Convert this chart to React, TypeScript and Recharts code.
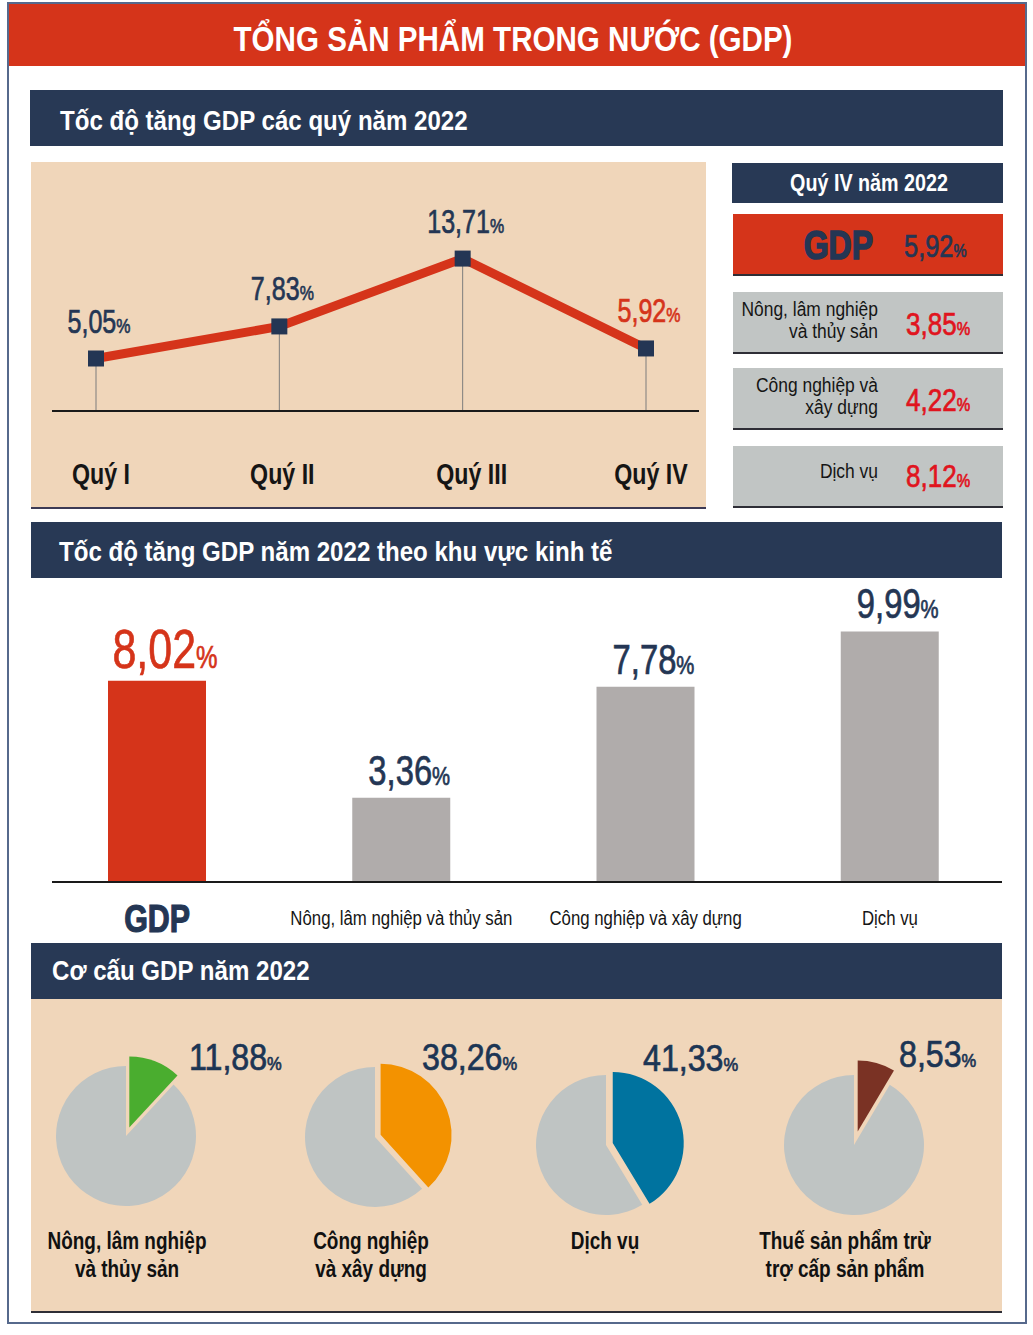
import React from 'react'
import {
  LineChart,
  Line,
  BarChart,
  Bar,
  Cell,
  XAxis,
  YAxis,
  LabelList,
  ReferenceLine,
  PieChart,
  Pie,
} from 'recharts'

// no Arial Narrow here: squeeze Liberation Sans horizontally instead
const FONT = "'Liberation Sans', Arial, sans-serif"
const SX = 0.82
const RED = '#d5341a'
const HOT = '#e0141e'
const NAVY = '#283955'
const INK = '#243654'
const BEIGE = '#f0d6ba'
const BAR_GREY = '#b0acab'
const BOX_GREY = '#c1c5c4'
const PIE_GREY = '#bfc4c3'

// quarterly GDP growth, 2022
const quarters = ['Quý I', 'Quý II', 'Quý III', 'Quý IV']
const quarterGrowth = [5.05, 7.83, 13.71, 5.92]

// Q4 2022 by sector
const q4Gdp = 5.92
const q4Sectors = [['Nông, lâm nghiệp', 'và thủy sản'], ['Công nghiệp và', 'xây dựng'], ['Dịch vụ']]
const q4Growth = [3.85, 4.22, 8.12]

// 2022 growth by sector
const sectors = ['GDP', 'Nông, lâm nghiệp và thủy sản', 'Công nghiệp và xây dựng', 'Dịch vụ']
const sectorGrowth = [8.02, 3.36, 7.78, 9.99]

// GDP structure 2022
const shareNames = [
  ['Nông, lâm nghiệp', 'và thủy sản'],
  ['Công nghiệp', 'và xây dựng'],
  ['Dịch vụ'],
  ['Thuế sản phẩm trừ', 'trợ cấp sản phẩm'],
]
const shareValues = [11.88, 38.26, 41.33, 8.53]
const shareColors = ['#4aad2f', '#f39200', '#00739f', '#7a3224']

const PIE_CENTERS = [[126, 1136], [375, 1137], [606, 1145], [854, 1145]]
const PIE_EXPLODE = [9, 6, 7, 14]
const PIE_LABELS = [[189, 1070], [422, 1070], [643, 1071], [899, 1067]]
const CAPTION_X = [127, 371, 605, 845]

const fmt = (v: number) => v.toFixed(2).replace('.', ',')

function NT({ x, y, anchor = 'start', size, weight = 400, fill, sx = SX, heavy = 0, children }: any) {
  return (
    <text
      transform={`translate(${x},${y}) scale(${sx},1)`}
      textAnchor={anchor}
      fontFamily={FONT}
      fontSize={size}
      fontWeight={weight}
      fill={fill}
      stroke={heavy ? fill : undefined}
      strokeWidth={heavy || undefined}
    >
      {children}
    </text>
  )
}

function Num({ x, y, v, size, pctSize, fill, anchor = 'start', sx = SX }: any) {
  return (
    <NT x={x} y={y} anchor={anchor} size={size} fill={fill} sx={sx} heavy={0.7}>
      {fmt(v)}
      <tspan fontSize={pctSize}>%</tspan>
    </NT>
  )
}

function QuarterTick({ x, y, payload, index }: any) {
  return (
    <NT x={x + [5, 3, 9, 5][index]} y={y + 65} anchor="middle" fill="#151515" size={29} weight={700} sx={0.8}>
      {payload.value}
    </NT>
  )
}

function QuarterLabel({ x, y, value, index }: any) {
  return (
    <Num x={x + 3} y={y - 26} v={value} size={33} pctSize={21} sx={0.76} anchor="middle" fill={index === 3 ? RED : INK} />
  )
}

function SquareDot(p: any) {
  return <rect key={p.index} x={p.cx - 8} y={p.cy - 8} width={16} height={16} fill={INK} />
}

function QuarterChart() {
  const data = quarters.map((q, i) => ({ q, v: quarterGrowth[i] }))
  return (
    <div style={{ position: 'absolute', left: 31, top: 162, width: 675, height: 345, background: BEIGE, borderBottom: '2px solid #3c3a55' }}>
      <LineChart width={675} height={346} data={data} margin={{ top: 24, right: 7, bottom: 0, left: 21 }}>
        <XAxis
          dataKey="q"
          padding={{ left: 44, right: 53 }}
          axisLine={{ stroke: '#1a1a1a', strokeWidth: 2 }}
          tickLine={false}
          height={97}
          interval={0}
          tick={<QuarterTick />}
        />
        <YAxis hide domain={[0.5, 20]} />
        {data.map((d) => (
          <ReferenceLine key={d.q} segment={[{ x: d.q, y: 0.5 }, { x: d.q, y: d.v }]} stroke="#7d7d7d" strokeWidth={1} />
        ))}
        <Line dataKey="v" stroke={RED} strokeWidth={9} dot={SquareDot} activeDot={false} isAnimationActive={false}>
          <LabelList dataKey="v" content={QuarterLabel} />
        </Line>
      </LineChart>
    </div>
  )
}

function SectorTick({ x, y, payload, index }: any) {
  if (index === 0) {
    return (
      <NT x={x} y={y + 42} anchor="middle" fill={INK} size={38} weight={700} sx={0.8} heavy={1.2}>
        {payload.value}
      </NT>
    )
  }
  return (
    <NT x={x} y={y + 35} anchor="middle" fill="#151515" size={21} sx={0.8}>
      {payload.value}
    </NT>
  )
}

function SectorLabel({ x, y, width, value, index }: any) {
  const big = index === 0
  return (
    <Num
      x={x + width / 2 + 8}
      y={y - 13}
      v={value}
      size={big ? 55 : 42}
      pctSize={big ? 31 : 26}
      sx={0.78}
      anchor="middle"
      fill={big ? RED : INK}
    />
  )
}

function SectorChart() {
  const data = sectors.map((name, i) => ({ name, v: sectorGrowth[i] }))
  return (
    <div style={{ position: 'absolute', left: 0, top: 560 }}>
      <BarChart width={1033} height={380} data={data} margin={{ top: 21, right: 31, bottom: 0, left: 52 }}>
        <XAxis
          dataKey="name"
          padding={{ left: -17, right: -10 }}
          axisLine={{ stroke: '#1a1a1a', strokeWidth: 2 }}
          tickLine={false}
          height={58}
          interval={0}
          tick={<SectorTick />}
        />
        <YAxis hide domain={[0, 12]} />
        <Bar dataKey="v" barSize={98} isAnimationActive={false}>
          {data.map((d, i) => (
            <Cell key={d.name} fill={i === 0 ? RED : BAR_GREY} />
          ))}
          <LabelList dataKey="v" content={SectorLabel} />
        </Bar>
      </BarChart>
    </div>
  )
}

function SharePie({ i }: { i: number }) {
  const v = shareValues[i]
  const data = [
    { name: shareNames[i].join(' '), value: v },
    { name: 'other', value: 100 - v },
  ]
  const mid = (v / 100) * Math.PI
  const d = PIE_EXPLODE[i]
  const [cx, cy] = PIE_CENTERS[i]
  return (
    <div style={{ position: 'absolute', left: cx - 100, top: cy - 100 }}>
      <PieChart width={200} height={200} margin={{ top: 0, right: 0, bottom: 0, left: 0 }}>
        <Pie data={data} dataKey="value" cx={100} cy={100} outerRadius={70} startAngle={90} endAngle={-270} stroke="none" isAnimationActive={false}>
          <Cell fill="transparent" />
          <Cell fill={PIE_GREY} />
        </Pie>
        <Pie
          data={data}
          dataKey="value"
          cx={100 + d * Math.sin(mid)}
          cy={100 - d * Math.cos(mid)}
          outerRadius={71}
          startAngle={90}
          endAngle={-270}
          stroke="none"
          isAnimationActive={false}
        >
          <Cell fill={shareColors[i]} />
          <Cell fill="transparent" />
        </Pie>
      </PieChart>
    </div>
  )
}

function Block({ left, top, width, height, bg, border }: any) {
  return (
    <div
      style={{
        position: 'absolute',
        left,
        top,
        width,
        height,
        background: bg,
        borderBottom: border ? '2px solid #2e2e36' : undefined,
      }}
    />
  )
}

export default function App() {
  const boxTops = [292, 368, 446]
  return (
    <div style={{ position: 'absolute', left: 0, top: 0, width: 1033, height: 1335, background: '#fff', overflow: 'hidden' }}>
      <div style={{ position: 'absolute', left: 7, top: 2, width: 1020, height: 1322, border: '2px solid #56698c', boxSizing: 'border-box' }} />
      <Block left={9} top={4} width={1016} height={62} bg={RED} />
      <Block left={30} top={90} width={973} height={56} bg={NAVY} />
      <QuarterChart />
      <Block left={732} top={163} width={271} height={40} bg={NAVY} />
      <Block left={733} top={214} width={270} height={60} bg={RED} border />
      {boxTops.map((t) => (
        <Block key={t} left={733} top={t} width={270} height={60} bg={BOX_GREY} border />
      ))}
      <Block left={31} top={522} width={971} height={56} bg={NAVY} />
      <SectorChart />
      <Block left={31} top={943} width={971} height={56} bg={NAVY} />
      <Block left={31} top={999} width={971} height={312} bg={BEIGE} border />
      {shareValues.map((_, i) => (
        <SharePie key={i} i={i} />
      ))}

      <svg width={1033} height={1335} style={{ position: 'absolute', left: 0, top: 0, pointerEvents: 'none' }}>
        <NT x={513} y={51} anchor="middle" fill="#fff" size={35} weight={700} sx={0.845}>
          TỔNG SẢN PHẨM TRONG NƯỚC (GDP)
        </NT>
        <NT x={60} y={130} fill="#fff" size={28} weight={700} sx={0.86}>
          Tốc độ tăng GDP các quý năm 2022
        </NT>
        <NT x={59} y={561} fill="#fff" size={28} weight={700} sx={0.86}>
          Tốc độ tăng GDP năm 2022 theo khu vực kinh tế
        </NT>
        <NT x={52} y={980} fill="#fff" size={28} weight={700} sx={0.86}>
          Cơ cấu GDP năm 2022
        </NT>

        <NT x={869} y={191} anchor="middle" fill="#fff" size={23.5} weight={700} sx={0.84}>
          Quý IV năm 2022
        </NT>
        <NT x={873} y={259} anchor="end" fill={INK} size={40} weight={700} sx={0.8} heavy={1.6}>
          GDP
        </NT>
        <Num x={904} y={257} v={q4Gdp} size={31} pctSize={18} fill={INK} />
        {q4Sectors.map((lines, i) => {
          const base = boxTops[i] + (lines.length === 2 ? 24 : 32)
          return (
            <g key={i}>
              {lines.map((l, j) => (
                <NT key={l} x={878} y={base + j * 22} anchor="end" fill="#151515" size={21} sx={0.83}>
                  {l}
                </NT>
              ))}
              <Num x={906} y={boxTops[i] + (i === 2 ? 41 : 43)} v={q4Growth[i]} size={31} pctSize={18} sx={0.84} fill={HOT} />
            </g>
          )
        })}

        {shareValues.map((v, i) => (
          <Num key={i} x={PIE_LABELS[i][0]} y={PIE_LABELS[i][1]} v={v} size={37} pctSize={19} sx={0.87} fill="#1c3554" />
        ))}
        {shareNames.map((lines, i) =>
          lines.map((l, j) => (
            <NT key={l} x={CAPTION_X[i]} y={1249 + j * 28} anchor="middle" fill="#111" size={24} weight={700} sx={0.79}>
              {l}
            </NT>
          ))
        )}
      </svg>
    </div>
  )
}
